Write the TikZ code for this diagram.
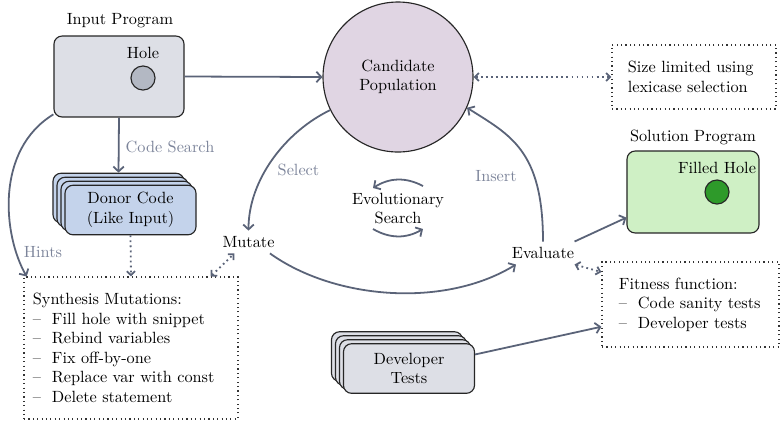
\documentclass[tikz,border=0pt]{standalone}
\usetikzlibrary{arrows.meta,calc}
\definecolor{arr}{HTML}{5A6378}
\definecolor{lbl}{HTML}{7C849A}
\definecolor{inpfill}{HTML}{DDDFE6}
\definecolor{holefill}{HTML}{B3B8C3}
\definecolor{candfill}{HTML}{E0D5E3}
\definecolor{donfill}{HTML}{C4D3EB}
\definecolor{solfill}{HTML}{CFF0C5}
\definecolor{solhole}{HTML}{2E9A2A}
\definecolor{dotc}{HTML}{333333}
\begin{document}
\begin{tikzpicture}[x=0.615pt,y=-0.615pt,
  flow/.style={draw=arr, line width=1.1pt, -{Straight Barb[length=3pt,width=6.5pt]}},
  dotarrow/.style={draw=arr, line width=1.1pt, dotted, {Straight Barb[length=2.5pt,width=5pt]}-{Straight Barb[length=2.5pt,width=5pt]}},
  dotone/.style={draw=arr, line width=1.1pt, dotted, -{Straight Barb[length=2.5pt,width=5pt]}},
  prog/.style={draw=black!85, line width=0.7pt, rounded corners=5pt, inner sep=0pt},
  stackbox/.style={prog, fill=#1, minimum width=80.6pt, minimum height=30.5pt, align=center},
  dotbox/.style={draw=dotc, line width=0.7pt, dotted, align=left, inner ysep=0pt},
  lab/.style={text=lbl},
  dot/.style={circle, draw=black!85, line width=0.7pt, minimum size=14.8pt, inner sep=0pt}
]
\useasboundingbox (0,0) rectangle (781,423);

% input program
\node (inplbl) at (120,21) {Input Program};
\node[prog, fill=inpfill, minimum width=80pt, minimum height=49.8pt] (inp) at (119,76.5) {};
\node (holelbl) at (143,53) {Hole};
\node[dot, fill=holefill] (hole) at (143,78) {};

% candidate population
\node[circle, draw=black!85, line width=0.7pt, fill=candfill, minimum size=92.25pt, inner sep=0pt, align=center] (cand) at (398,77) {Candidate\\Population};

% size box
\node[dotbox, minimum width=100.9pt, minimum height=39.4pt, inner xsep=9.8pt, text width=81.3pt] (size) at (694,77) {Size limited using\\lexicase selection};

% solution program
\node (sollbl) at (693,137) {Solution Program};
\node[prog, fill=solfill, minimum width=81.2pt, minimum height=50.4pt] (sol) at (693,192) {};
\node (filllbl) at (717,168) {Filled Hole};
\node[dot, fill=solhole] (fill) at (717,192) {};

% donor code stack
\node[stackbox=donfill] (donor3) at (118.5,198) {};
\node[stackbox=donfill] (donor2) at (122.5,202) {};
\node[stackbox=donfill] (donor1) at (126.5,206) {};
\node[stackbox=donfill] (donor) at (130.5,210) {Donor Code\\(Like Input)};

% developer tests stack
\node[stackbox=inpfill] (dev3) at (397,356.5) {};
\node[stackbox=inpfill] (dev2) at (401,360.5) {};
\node[stackbox=inpfill] (dev1) at (405,364.5) {};
\node[stackbox=inpfill] (dev) at (409,368.5) {Developer\\Tests};

% synthesis mutations
\node[dotbox, minimum width=131.6pt, minimum height=87.3pt, inner xsep=5.5pt, text width=120.6pt] (synth) at (131,348) {Synthesis Mutations:\\
\textendash\ \ Fill hole with snippet\\
\textendash\ \ Rebind variables\\
\textendash\ \ Fix off-by-one\\
\textendash\ \ Replace var with const\\
\textendash\ \ Delete statement};

% fitness function
\node[dotbox, minimum width=108.9pt, minimum height=52.3pt, inner xsep=10.4pt, text width=88pt] (fit) at (690.5,304.5) {Fitness function:\\
\textendash\ \ Code sanity tests\\
\textendash\ \ Developer tests};

% loop labels
\node (mut) at (248.5,242) {Mutate};
\node (eval) at (543,253) {Evaluate};
\node[align=center] (evo) at (398,208.5) {Evolutionary\\Search};
\coordinate (e1) at (423,186);
\coordinate (e2) at (373,188);
\coordinate (e3) at (373,229);
\coordinate (e4) at (423,229);

% edge labels
\node[lab] (lcs) at (170,147) {Code Search};
\node[lab] (lhints) at (43,252) {Hints};
\node[lab] (lsel) at (298.5,170) {Select};
\node[lab] (lins) at (496,176) {Insert};

% connectors
\draw[flow] (inp.east) -- (cand.west);
\draw[dotarrow] (cand.east) -- (size.west);
\draw[flow] (inp.south) -- (donor3.north);
\draw[dotone] (donor.south) -- (synth.north);
\draw[flow] (inp.210) .. controls (-5,150) and (3,235) .. ([xshift=2pt]synth.north west);
\draw[dotarrow] ([xshift=-17.2pt]synth.north east) -- (mut.219);
\draw[flow] (cand.206) .. controls (285,132) and (248.5,180) .. (mut.north);
\draw[flow] (mut.-28) .. controls (335,300) and (445,308) .. (eval.203);
\draw[flow] (eval.north) .. controls (543,150) and (510,135) .. (cand.336);
\draw[flow] (eval.20) -- (sol.201);
\draw[dotarrow] (eval.-20) -- (fit.160);
\draw[flow] (dev.12) -- (fit.194);
\draw[flow] (e1) to[bend right=30] (e2);
\draw[flow] (e3) to[bend right=30] (e4);
\end{tikzpicture}
\end{document}
